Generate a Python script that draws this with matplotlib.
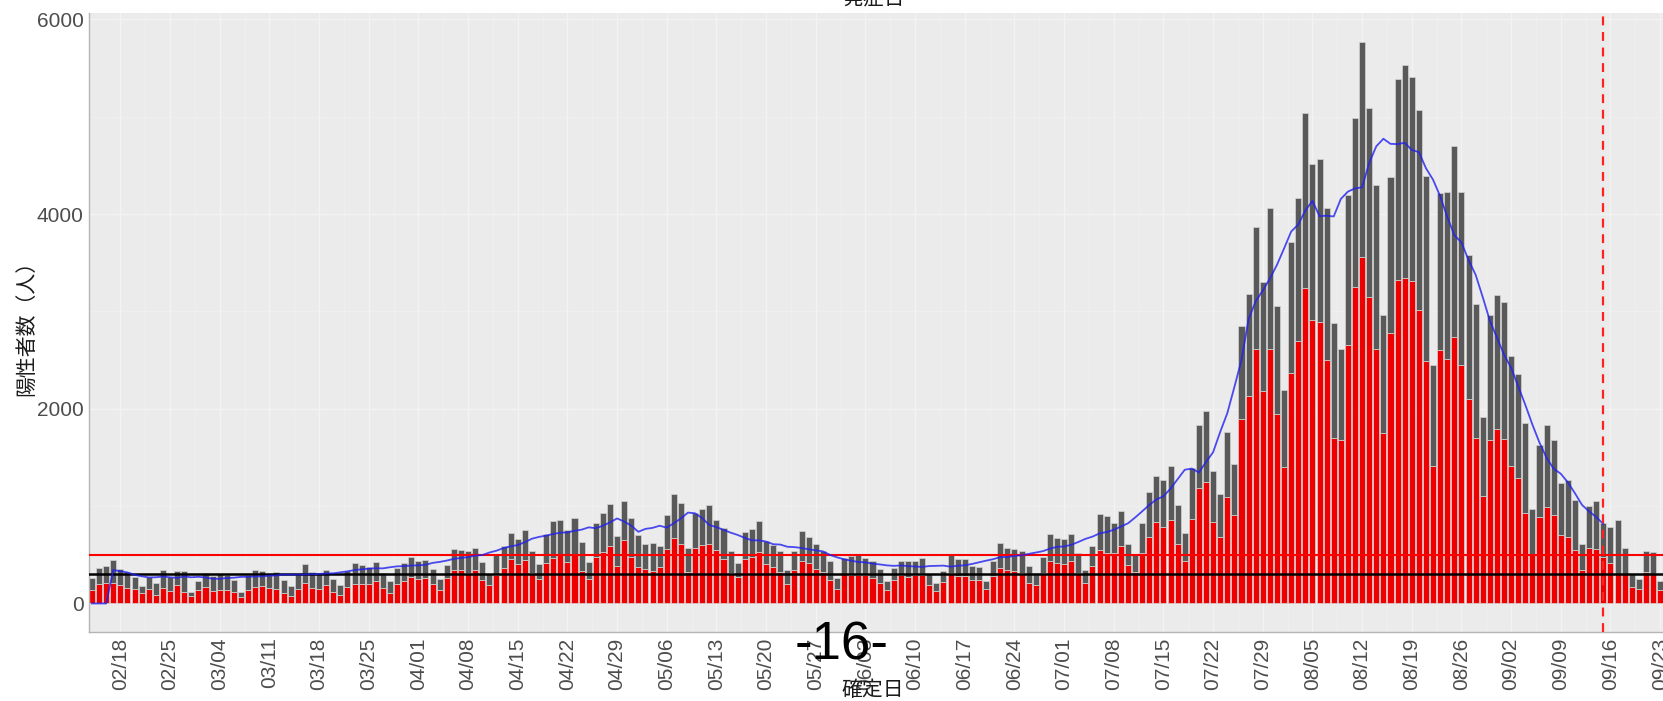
import numpy as np
import pandas as pd
import matplotlib
matplotlib.use("Agg")
import matplotlib.pyplot as plt

plt.rcParams['font.family'] = ['Liberation Sans', 'Noto Sans CJK JP', 'DejaVu Sans']

# daily positives by confirmation date, 2021-02-14 .. 2021-09-23
start_date = '2021-02-14'
total = [
    266, 360, 383, 445, 353, 327, 272, 178, 275, 213, 340, 270, 337, 329,
    121, 232, 316, 279, 301, 293, 237, 116, 290, 340, 335, 304, 320, 239,
    175, 300, 409, 323, 303, 342, 256, 187, 337, 420, 394, 376, 430, 313,
    234, 364, 414,
    475, 440, 446, 355, 249, 399, 555, 545, 537, 570, 421, 306, 510, 591,
    729, 667, 759, 543, 405, 711, 843, 861, 759, 876, 635, 425, 828, 925,
    1027, 698, 1050, 879, 708, 609, 621, 591, 907, 1121, 1032, 573, 925, 969,
    1010, 854, 772,
    542, 419, 732, 766, 843, 640, 600, 535, 340, 537, 743, 684, 614, 539,
    440, 260, 471, 487, 508, 472, 436, 351, 235, 369, 440, 439, 435, 467,
    304, 209, 337, 501, 452, 453, 388, 376, 236, 435, 619, 570, 562, 534,
    386, 317, 476, 714, 673,
    660, 716, 518, 342, 593, 920, 896, 822, 950, 614, 502, 830, 1149, 1308,
    1271, 1410, 1008, 727, 1387, 1832, 1979, 1359, 1128, 1763, 1429, 2848, 3177, 3865,
    3300, 4058, 3058, 2195, 3709, 4166, 5042,
    4515, 4566, 4066, 2884, 2612, 4200, 4989, 5773, 5094, 4295, 2962, 4377, 5386, 5534,
    5405, 5074, 4392, 2447, 4220, 4228, 4704, 4227, 3581, 3081, 1915, 2960, 3168, 3099,
    2539, 2362, 1853, 968, 1629, 1834, 1675, 1242, 1273, 1067, 611, 1004, 1052, 831,
    782, 862, 573, 302, 253, 537, 531, 235,
]
red = [
    136, 198, 211, 215, 188, 160, 147, 103, 147, 92, 160, 130, 188, 119,
    75, 136, 167, 130, 136, 142, 119, 65, 142, 171, 181, 154, 151, 106,
    72, 151, 208, 164, 151, 194, 119, 85, 167, 198, 198, 198, 229, 157,
    106, 204, 229,
    270, 249, 266, 205, 136, 259, 348, 342, 318, 348, 242, 188, 297, 365,
    457, 406, 451, 314, 256, 413, 472, 509, 431, 513, 338, 253, 475, 533,
    588, 386, 653, 482, 372, 355, 338, 379, 557, 673, 608, 324, 570, 601,
    611, 547, 454,
    318, 270, 454, 478, 526, 403, 372, 325, 195, 345, 437, 417, 359, 321,
    246, 153, 300, 297, 297, 297, 263, 208, 143, 243, 297, 270, 297, 297,
    191, 130, 218, 318, 284, 284, 243, 243, 153, 284, 366, 348, 338, 318,
    208, 187, 318, 441, 413,
    403, 435, 315, 212, 387, 547, 523, 515, 595, 395, 319, 523, 686, 834,
    790, 854, 607, 439, 870, 1185, 1249, 838, 686, 1098, 906, 1892, 2127, 2610,
    2183, 2614, 1944, 1401, 2371, 2698, 3245,
    2913, 2893, 2502, 1704, 1684, 2658, 3249, 3560, 3149, 2610, 1756, 2778, 3325, 3341,
    3313, 3013, 2490, 1409, 2602, 2514, 2742, 2450, 2103, 1700, 1109, 1684, 1792, 1692,
    1409, 1285, 926, 511, 890, 990, 906, 702, 686, 551, 339, 571, 559, 479,
    419, 299, 299, 172, 148, 323, 299, 136,
]
tick_labels = ['02/18', '02/25', '03/04', '03/11', '03/18', '03/25', '04/01', '04/08',
               '04/15', '04/22', '04/29', '05/06', '05/13', '05/20', '05/27', '06/03',
               '06/10', '06/17', '06/24', '07/01', '07/08', '07/15', '07/22', '07/29',
               '08/05', '08/12', '08/19', '08/26', '09/02', '09/09', '09/16', '09/23']
red_level = 500
black_level = 300
cutoff = '09/15'

dates = pd.date_range(start_date, periods=len(total))
labels = list(dates.strftime('%m/%d'))
x = np.arange(len(total))
total = np.array(total)
red = np.array(red)
gray = total - red

# centred 7-day average of the daily totals, drawn up to the cutoff day
ma = pd.Series(total).rolling(7, center=True).mean().fillna(0)
end = labels.index(cutoff)

fig = plt.figure(figsize=(16.63, 7.01), dpi=100)
ax = fig.add_axes([89 / 1663, 69 / 701, 1591 / 1663, 619 / 701])
ax.set_facecolor('#EBEBEB')

ax.bar(x, red, width=0.85, color='#EE0000', edgecolor='#D4D4D4', linewidth=0.5, zorder=2)
ax.bar(x, gray, bottom=red, width=0.85, color='#595959', edgecolor='#D4D4D4', linewidth=0.5, zorder=2)
ax.plot(x[:end + 1], ma[:end + 1], color='#2020F0', alpha=0.8, lw=1.3, zorder=4)
ax.axhline(red_level, color='#FF0000', lw=1.5, zorder=3)
ax.axhline(black_level, color='black', lw=1.8, zorder=3)
ax.axvline(end, color='#FF2020', lw=1.6, ls=(0, (4, 3)), zorder=5)

ticks = [labels.index(t) for t in tick_labels]
ax.set_xticks(ticks)
ax.set_xticklabels(tick_labels, rotation=90, color='#4D4D4D', fontsize=15)
ax.set_xticks([t + 3.5 for t in ticks], minor=True)
ax.set_yticks([0, 2000, 4000, 6000])
ax.set_yticklabels(['0', '2000', '4000', '6000'], color='#4D4D4D', fontsize=15)
ax.set_yticks([1000, 3000, 5000], minor=True)
ax.tick_params(which='both', length=0, pad=4)
ax.grid(which='major', color='#F3F3F3', lw=0.9, zorder=0)
ax.grid(which='minor', color='#F1F1F1', lw=0.5, zorder=0)
ax.set_axisbelow(True)

ax.set_xlim(-0.42, 223.8)
ax.set_ylim(-293, 6066)
for s in ['top', 'right']:
    ax.spines[s].set_visible(False)
for s in ['left', 'bottom']:
    ax.spines[s].set_color('#B5B5B5')
    ax.spines[s].set_linewidth(1.0)

fig.text(26 / 1663, 1 - 323 / 701, '陽性者数（人）', rotation=90, ha='center', va='center',
         fontsize=15, color='#1A1A1A')
fig.text(873 / 1663, 1 - 690 / 701, '確定日', ha='center', va='center', fontsize=15, color='#1A1A1A')
fig.text(874 / 1663, 1 - 5 / 701, '発症日', ha='center', va='baseline', fontsize=15, color='#1A1A1A')
fig.text(842 / 1663, 1 - 646 / 701, '-16-', ha='center', va='center', fontsize=38, color='black', zorder=10)

fig.savefig('out.png', dpi=100)
